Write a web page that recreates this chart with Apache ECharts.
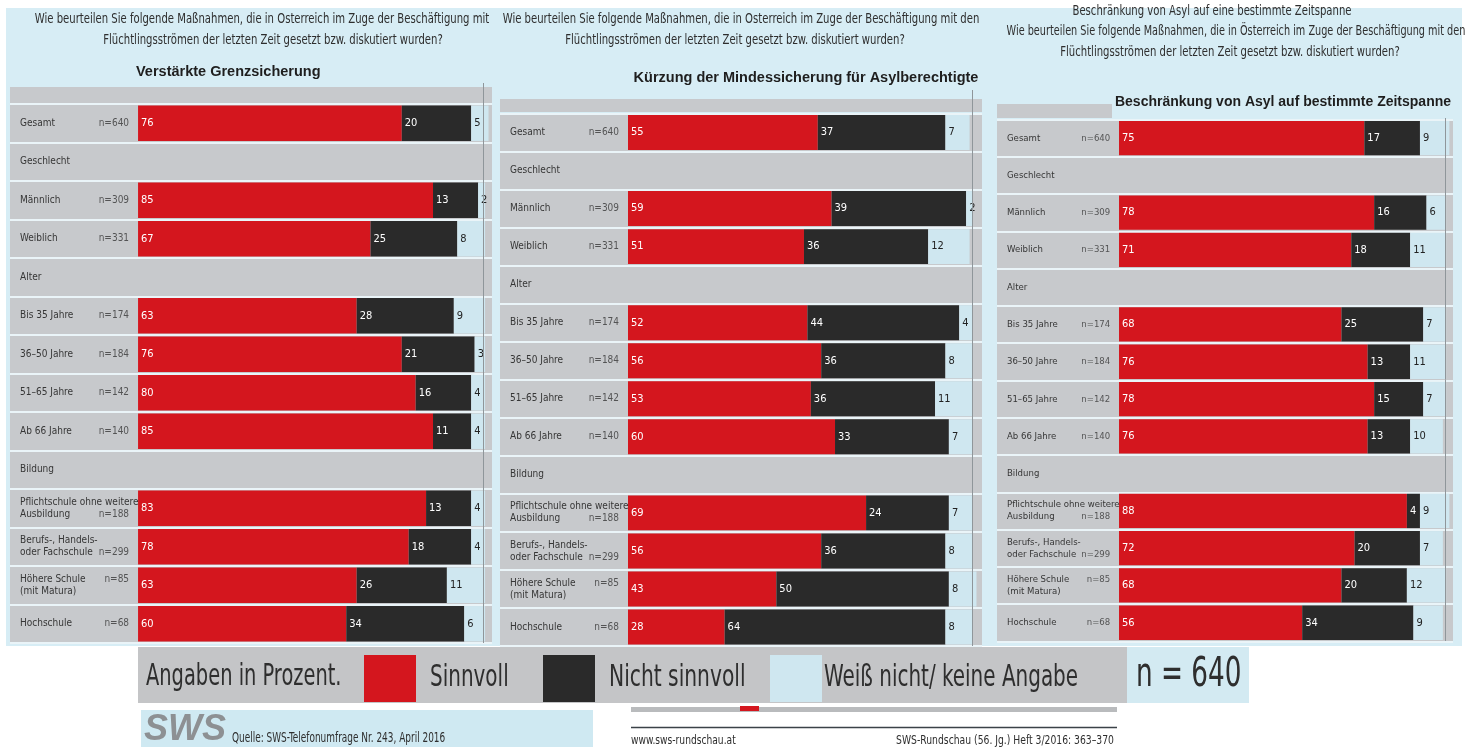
<!DOCTYPE html>
<html lang="de">
<head>
<meta charset="utf-8">
<title>Maßnahmen im Zuge der Flüchtlingsströme – SWS</title>
<script src="https://cdn.jsdelivr.net/npm/echarts@6.0.0/dist/echarts.min.js"></script>
<style>
  html, body { margin: 0; padding: 0; background: #fff; }
  #chart { width: 1465px; height: 747px; }
</style>
</head>
<body>
<div id="chart"></div>
<script>
// Zeilen – gleich für alle drei Tafeln (null = Zwischenüberschrift ohne Balken)
const categories = [
  'Gesamt', 'Geschlecht', 'Männlich', 'Weiblich', 'Alter',
  'Bis 35 Jahre', '36–50 Jahre', '51–65 Jahre', 'Ab 66 Jahre', 'Bildung',
  'Pflichtschule ohne weitere\nAusbildung', 'Berufs-, Handels-\noder Fachschule',
  'Höhere Schule\n(mit Matura)', 'Hochschule'
]
const sampleSizes = [640, null, 309, 331, null, 174, 184, 142, 140, null, 188, 299, 85, 68]

// Verstärkte Grenzsicherung
const grenzSinnvoll = [76, null, 85, 67, null, 63, 76, 80, 85, null, 83, 78, 63, 60]
const grenzNicht    = [20, null, 13, 25, null, 28, 21, 16, 11, null, 13, 18, 26, 34]
const grenzWeiss    = [5, null, 2, 8, null, 9, 3, 4, 4, null, 4, 4, 11, 6]

// Kürzung der Mindestsicherung für Asylberechtigte
const kuerzSinnvoll = [55, null, 59, 51, null, 52, 56, 53, 60, null, 69, 56, 43, 28]
const kuerzNicht    = [37, null, 39, 36, null, 44, 36, 36, 33, null, 24, 36, 50, 64]
const kuerzWeiss    = [7, null, 2, 12, null, 4, 8, 11, 7, null, 7, 8, 8, 8]

// Beschränkung von Asyl auf bestimmte Zeitspanne
const asylSinnvoll = [75, null, 78, 71, null, 68, 76, 78, 76, null, 88, 72, 68, 56]
const asylNicht    = [17, null, 16, 18, null, 25, 13, 15, 13, null, 4, 20, 20, 34]
const asylWeiss    = [9, null, 6, 11, null, 7, 11, 7, 10, null, 9, 7, 12, 9]

const seriesNames = ['Sinnvoll', 'Nicht sinnvoll', 'Weiß nicht/ keine Angabe']

const NARROW = "'Liberation Sans Narrow', 'DejaVu Sans Condensed', sans-serif"
const BOLD = "'Liberation Sans', Arial, sans-serif"
const RED = '#d4161e'
const BLACK = '#2a2a2a'
const LIGHT = '#cfe7f0'
const GRAY = '#c7c9cc'
const BG = '#d7edf5'
const TXT = '#363636'

// Layout der drei Tafeln
const panels = [
  { data: [grenzSinnvoll, grenzNicht, grenzWeiss], font: 10,
    grid: { left: 10, top: 104, width: 482, height: 539 }, min: -36.9, max: 102 },
  { data: [kuerzSinnvoll, kuerzNicht, kuerzWeiss], font: 10,
    grid: { left: 500, top: 113.5, width: 482, height: 532.5 }, min: -37.1, max: 102.6 },
  { data: [asylSinnvoll, asylNicht, asylWeiss], font: 9.5,
    grid: { left: 997, top: 119.4, width: 456, height: 522 }, min: -37.3, max: 102.1 },
]
const segColors = [RED, BLACK, LIGHT]
const segLabelColors = ['#fff', '#fff', '#222']
// n-Angabe bei zweizeiligen Beschriftungen: auf welcher Zeile
const nLineShift = { 10: 6, 11: 6, 12: -6 }

const grids = [], xAxes = [], yAxes = [], series = []
panels.forEach((p, i) => {
  grids.push(p.grid)
  xAxes.push({
    type: 'value', gridIndex: i, min: p.min, max: p.max,
    axisLabel: { show: false }, axisLine: { show: false },
    axisTick: { show: false }, splitLine: { show: false },
  })
  yAxes.push({
    type: 'category', gridIndex: i, data: categories, inverse: true,
    axisLine: { show: false }, axisTick: { show: false },
    axisLabel: {
      inside: true, margin: 10, color: TXT,
      fontFamily: NARROW, fontSize: p.font, lineHeight: 12,
    },
    splitArea: { show: true, interval: 0, areaStyle: { color: [GRAY, GRAY] } },
    splitLine: { show: true, interval: 0, lineStyle: { color: '#eaf4f8', width: 2 } },
  })
  p.data.forEach((values, s) => {
    series.push({
      name: seriesNames[s], type: 'bar', stack: 'panel' + i,
      xAxisIndex: i, yAxisIndex: i,
      data: values.map(v => (v == null ? '-' : v)),
      barCategoryGap: '8%',
      itemStyle: { color: segColors[s] },
      label: {
        show: true, position: 'insideLeft', distance: 3,
        color: segLabelColors[s], fontFamily: NARROW, fontSize: 11,
      },
    })
  })
  // Stichprobengröße links vor den Balken
  series.push({
    type: 'scatter', xAxisIndex: i, yAxisIndex: i, silent: true,
    symbolSize: 1, itemStyle: { color: 'rgba(0,0,0,0)' },
    data: sampleSizes
      .map((n, k) => (n == null ? null : {
        value: [-1, k],
        label: { offset: [0, nLineShift[k] || 0] },
      }))
      .filter(Boolean),
    label: {
      show: true, position: 'left', distance: 5, color: TXT,
      fontFamily: NARROW, fontSize: p.font,
      formatter: d => 'n=' + sampleSizes[d.data.value[1]],
    },
  })
})

const question1 = 'Wie beurteilen Sie folgende Maßnahmen, die in Osterreich im Zuge der Beschäftigung mit'
const question1b = 'Wie beurteilen Sie folgende Maßnahmen, die in Osterreich im Zuge der Beschäftigung mit den'
const question1c = 'Wie beurteilen Sie folgende Maßnahmen, die in Österreich im Zuge der Beschäftigung mit den'
const question2 = 'Flüchtlingsströmen der letzten Zeit gesetzt bzw. diskutiert wurden?'

const tStyle = { fontFamily: BOLD, fontSize: 14.5, fontWeight: 'bold', color: '#1e1e1e' }
const title = [
  { text: 'Verstärkte Grenzsicherung', left: 131, top: 59, textStyle: tStyle },
  { text: 'Kürzung der Mindessicherung für Asylberechtigte', left: 801, top: 65, textAlign: 'center', textStyle: tStyle },
  { text: 'Beschränkung von Asyl auf bestimmte Zeitspanne', left: 1278, top: 90, textAlign: 'center',
    textStyle: Object.assign({}, tStyle, { fontSize: 14 }) },
]

// schmale Schrift: horizontal gestauchter Text
const narrowText = (text, x, y, size, sx, align) => ({
  type: 'text', x, y, scaleX: sx, z: 20,
  style: {
    text, fill: '#2e2e2e', font: size + 'px ' + NARROW,
    textAlign: align || 'left', textVerticalAlign: 'middle',
  },
})

const legendBase = {
  top: 655, padding: 0, itemWidth: 52, itemHeight: 47, icon: 'rect',
  formatter: () => '', textStyle: { fontSize: 1 },
}
const legend = [
  Object.assign({ data: [seriesNames[0]], left: 364 }, legendBase),
  Object.assign({ data: [seriesNames[1]], left: 543 }, legendBase),
  Object.assign({ data: [seriesNames[2]], left: 770 }, legendBase),
]

const graphic = [
  // Hintergrund der drei Tafeln
  { type: 'rect', z: -20, shape: { x: 6, y: 8, width: 1456, height: 638 }, style: { fill: BG } },
  { type: 'rect', z: -10, shape: { x: 10, y: 87, width: 482, height: 16 }, style: { fill: GRAY } },
  { type: 'rect', z: -10, shape: { x: 500, y: 99, width: 482, height: 13 }, style: { fill: GRAY } },
  { type: 'rect', z: -10, shape: { x: 997, y: 104, width: 115, height: 14 }, style: { fill: GRAY } },
  { type: 'line', z: 10, shape: { x1: 483.5, y1: 83, x2: 483.5, y2: 643 }, style: { stroke: '#8f969a', lineWidth: 1 } },
  { type: 'line', z: 10, shape: { x1: 972.5, y1: 90, x2: 972.5, y2: 646 }, style: { stroke: '#8f969a', lineWidth: 1 } },
  { type: 'line', z: 10, shape: { x1: 1445.5, y1: 118, x2: 1445.5, y2: 641 }, style: { stroke: '#8f969a', lineWidth: 1 } },
  // Fragetexte
  narrowText(question1, 262, 19, 14, 0.8, 'center'),
  narrowText(question2, 273, 40, 14, 0.8, 'center'),
  narrowText(question1b, 741, 19, 14, 0.8, 'center'),
  narrowText(question2, 735, 40, 14, 0.8, 'center'),
  narrowText('Beschränkung von Asyl auf eine bestimmte Zeitspanne', 1212, 11, 14, 0.8, 'center'),
  narrowText(question1c, 1236, 31, 14, 0.77, 'center'),
  narrowText(question2, 1230, 52, 14, 0.8, 'center'),
  // Legendenleiste
  { type: 'rect', z: -10, shape: { x: 138, y: 647, width: 989, height: 56 }, style: { fill: '#c4c5c7' } },
  { type: 'rect', z: -10, shape: { x: 1127, y: 647, width: 122, height: 56 }, style: { fill: '#d3eaf2' } },
  narrowText('Angaben in Prozent.', 146, 677, 30, 0.72),
  narrowText(seriesNames[0], 430, 678, 30, 0.74),
  narrowText(seriesNames[1], 609, 678, 30, 0.75),
  narrowText(seriesNames[2], 824, 678, 30, 0.74),
  narrowText('n = 640', 1136, 676, 40, 0.73),
  // Fußzeile
  { type: 'rect', z: -10, shape: { x: 141, y: 710, width: 452, height: 37 }, style: { fill: '#cfe9f2' } },
  { type: 'text', x: 144, y: 730, style: { text: 'SWS', fill: '#8d9093', font: 'italic 900 36px ' + BOLD, textVerticalAlign: 'middle' } },
  narrowText('Quelle: SWS-Telefonumfrage Nr. 243, April 2016', 232, 738, 14, 0.71),
  { type: 'rect', shape: { x: 631, y: 707, width: 486, height: 5 }, style: { fill: '#b9bbbd' } },
  { type: 'rect', shape: { x: 740, y: 706, width: 19, height: 5 }, style: { fill: RED } },
  { type: 'line', shape: { x1: 631, y1: 727.5, x2: 1117, y2: 727.5 }, style: { stroke: '#3b4248', lineWidth: 1.5 } },
  narrowText('www.sws-rundschau.at', 631, 741, 13, 0.78),
  narrowText('SWS-Rundschau (56. Jg.) Heft 3/2016: 363–370', 1114, 741, 13, 0.79, 'right'),
]

const chart = echarts.init(document.getElementById('chart'), null, { renderer: 'canvas' })
chart.setOption({
  animation: false,
  backgroundColor: '#fff',
  title,
  legend,
  grid: grids,
  xAxis: xAxes,
  yAxis: yAxes,
  series,
  graphic,
})
</script>
</body>
</html>
